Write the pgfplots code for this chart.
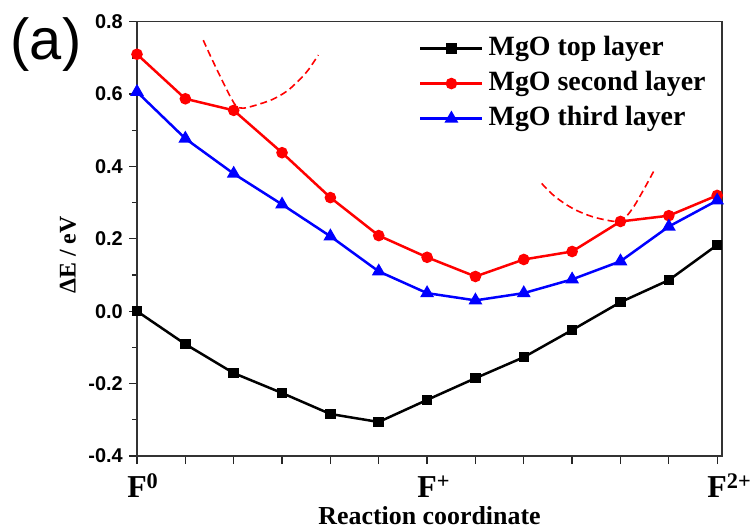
\documentclass[border=0pt]{standalone}
\usepackage{fontspec}
\setmainfont{Liberation Serif}
\setsansfont{Liberation Sans}
\usepackage{pgfplots}
\pgfplotsset{compat=1.18}
\begin{document}
\begin{tikzpicture}
\useasboundingbox (0,0) rectangle (750bp,531bp);
\begin{axis}[
  at={(137bp,75bp)}, anchor=south west,
  scale only axis, width=585bp, height=434.3bp,
  xmin=0, xmax=12.1, ymin=-0.4, ymax=0.8,
  clip=false,
  axis line style={line width=1.5bp, black!80},
  tick style={line width=1.3bp, black!85},
  tick align=outside, xtick pos=bottom, ytick pos=left,
  major tick length=8bp, minor tick length=5bp,
  xtick={0,1,...,12},
  xticklabels={F\rlap{\textsuperscript{0}},,,,,,F\rlap{\textsuperscript{+}},,,,,,F\rlap{\textsuperscript{2+}}},
  xticklabel style={font=\bfseries\fontsize{32}{34}\selectfont, anchor=base, inner sep=0pt, text depth=0pt, yshift=-33bp},
  ytick={-0.4,-0.2,0,0.2,0.4,0.6,0.8},
  minor y tick num=1,
  yticklabel style={font=\sffamily\bfseries\fontsize{20}{24}\selectfont, anchor=east, inner sep=0pt, xshift=-6bp},
  /pgf/number format/assume math mode=true,
  /pgf/number format/fixed, /pgf/number format/fixed zerofill, /pgf/number format/precision=1,
  xlabel={Reaction coordinate},
  xlabel style={font=\bfseries\fontsize{26}{28}\selectfont, at={(axis description cs:0.5,-0.158)}, anchor=base, inner sep=0pt},
  ylabel={ΔE / eV},
  ylabel style={font=\bfseries\fontsize{24}{26}\selectfont, at={(axis description cs:-0.118,0.463)}, anchor=center},
  legend style={at={(axis description cs:0.482,0.972)}, anchor=north west, draw=none, fill=none,
    inner sep=0pt, row sep=6bp, column sep=4bp,
    font=\bfseries\fontsize{28}{30}\selectfont,
    nodes={inner sep=1bp, text height=20bp, text depth=7bp}},
  legend cell align=left,
  legend image code/.code={\draw[mark repeat=2,mark phase=2] plot coordinates {(0bp,0bp) (31bp,0bp) (62bp,0bp)};},
]
\addplot[black, line width=2.5bp, mark=square*, mark size=4bp, mark options={solid}]
  coordinates {
    (0,0.000) (1,-0.091) (2,-0.171) (3,-0.226) (4,-0.284) (5,-0.306) (6,-0.245)
    (7,-0.185) (8,-0.127) (9,-0.052) (10,0.025) (11,0.086) (12,0.183)
  };
\addlegendentry{MgO top layer}
\addplot[red, line width=2.5bp, mark=*, mark size=4.5bp, mark options={solid}]
  coordinates {
    (0,0.710) (1,0.587) (2,0.555) (3,0.438) (4,0.314) (5,0.209) (6,0.149)
    (7,0.096) (8,0.143) (9,0.165) (10,0.248) (11,0.264) (12,0.320)
  };
\addlegendentry{MgO second layer}
\addplot[blue, line width=2.5bp, mark=triangle*, mark size=5.5bp, mark options={solid}]
  coordinates {
    (0,0.606) (1,0.477) (2,0.380) (3,0.295) (4,0.207) (5,0.110) (6,0.050)
    (7,0.030) (8,0.050) (9,0.088) (10,0.138) (11,0.234) (12,0.306)
  };
\addlegendentry{MgO third layer}
% dashed guide curves
\addplot[red, line width=1.6bp, dash pattern=on 7bp off 4bp, smooth, forget plot]
  coordinates {
    (1.37,0.749) (1.52,0.705) (1.67,0.663) (1.82,0.622) (1.95,0.588) (2.06,0.566)
    (2.2,0.561) (2.45,0.569) (2.8,0.585) (3.1,0.608) (3.35,0.638) (3.55,0.668) (3.75,0.708)
  };
\addplot[red, line width=1.6bp, dash pattern=on 7bp off 4bp, smooth, forget plot]
  coordinates {
    (8.37,0.353) (8.6,0.322) (8.85,0.297) (9.1,0.278) (9.4,0.262) (9.7,0.252)
    (9.95,0.248) (10.12,0.262) (10.28,0.290) (10.43,0.324) (10.58,0.360) (10.72,0.395)
  };
\end{axis}
\node[font=\sffamily\fontsize{58}{60}\selectfont] at (46bp,486bp) {(a)};
\end{tikzpicture}
\end{document}
